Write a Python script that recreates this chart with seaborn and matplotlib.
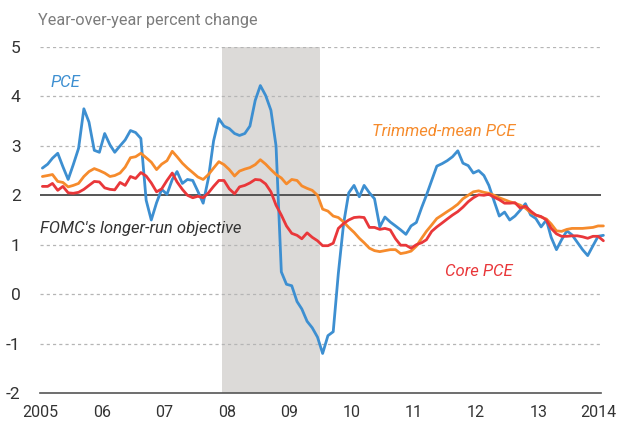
import matplotlib
matplotlib.use("Agg")
import matplotlib.pyplot as plt
import matplotlib.transforms as mtransforms
import numpy as np
import pandas as pd
import seaborn as sns

# monthly, Jan 2005 - Jan 2014 (year-over-year % change)
pce = [
    2.55, 2.63, 2.75, 2.85, 2.58, 2.32, 2.62, 2.95, 3.75, 3.48, 2.91, 2.87,
    3.25, 3.02, 2.87, 3.00, 3.12, 3.31, 3.27, 3.15, 1.90, 1.50, 1.85, 2.12,
    2.02, 2.32, 2.48, 2.24, 2.32, 2.30, 2.08, 1.84, 2.35, 3.10, 3.55, 3.40,
    3.35, 3.25, 3.21, 3.25, 3.40, 3.92, 4.22, 4.02, 3.72, 3.00, 0.45, 0.20,
    0.17, -0.15, -0.30, -0.55, -0.68, -0.87, -1.20, -0.84, -0.76, 0.42, 1.43, 2.05,
    2.20, 1.97, 2.20, 2.05, 1.93, 1.36, 1.56, 1.46, 1.38, 1.30, 1.21, 1.38,
    1.45, 1.75, 2.00, 2.30, 2.59, 2.64, 2.70, 2.78, 2.90, 2.65, 2.60, 2.45,
    2.50, 2.40, 2.20, 1.88, 1.58, 1.66, 1.50, 1.58, 1.70, 1.83, 1.60, 1.53,
    1.36, 1.50, 1.15, 0.90, 1.10, 1.28, 1.20, 1.05, 0.90, 0.78, 0.98, 1.17,
    1.19,
]
trimmed = [
    2.38, 2.40, 2.42, 2.28, 2.26, 2.17, 2.20, 2.24, 2.38, 2.48, 2.54, 2.50,
    2.45, 2.38, 2.40, 2.45, 2.57, 2.76, 2.78, 2.85, 2.76, 2.67, 2.52, 2.63,
    2.70, 2.89, 2.78, 2.65, 2.55, 2.46, 2.37, 2.32, 2.42, 2.55, 2.68, 2.62,
    2.52, 2.39, 2.49, 2.53, 2.56, 2.62, 2.72, 2.63, 2.52, 2.42, 2.35, 2.23,
    2.32, 2.30, 2.19, 2.14, 2.10, 2.00, 1.72, 1.68, 1.58, 1.55, 1.46, 1.35,
    1.25, 1.13, 1.04, 0.93, 0.88, 0.86, 0.88, 0.90, 0.90, 0.82, 0.84, 0.87,
    0.97, 1.13, 1.27, 1.40, 1.53, 1.60, 1.67, 1.74, 1.82, 1.93, 2.00, 2.07,
    2.09, 2.06, 2.04, 2.00, 1.95, 1.91, 1.87, 1.84, 1.80, 1.74, 1.65, 1.60,
    1.56, 1.52, 1.42, 1.28, 1.27, 1.31, 1.33, 1.33, 1.33, 1.34, 1.35, 1.38,
    1.38,
]
core = [
    2.18, 2.18, 2.24, 2.10, 2.18, 2.05, 2.04, 2.06, 2.12, 2.20, 2.28, 2.27,
    2.15, 2.12, 2.11, 2.26, 2.20, 2.38, 2.34, 2.46, 2.39, 2.25, 2.07, 2.13,
    2.30, 2.45, 2.27, 2.12, 2.00, 1.95, 1.98, 1.95, 2.05, 2.18, 2.30, 2.30,
    2.13, 2.03, 2.17, 2.20, 2.25, 2.32, 2.31, 2.23, 2.07, 1.80, 1.60, 1.38,
    1.23, 1.19, 1.12, 1.24, 1.15, 1.08, 0.98, 0.98, 1.03, 1.33, 1.43, 1.50,
    1.55, 1.56, 1.55, 1.35, 1.35, 1.31, 1.33, 1.30, 1.12, 0.99, 0.99, 0.93,
    1.00, 1.04, 1.10, 1.27, 1.36, 1.44, 1.52, 1.60, 1.67, 1.76, 1.87, 1.95,
    2.01, 2.00, 2.02, 1.96, 1.91, 1.84, 1.84, 1.85, 1.74, 1.78, 1.68, 1.60,
    1.57, 1.50, 1.33, 1.22, 1.17, 1.17, 1.18, 1.18, 1.16, 1.13, 1.17, 1.17,
    1.08,
]
series_names = ["PCE", "Trimmed-mean PCE", "Core PCE"]
series_colors = ["#3d8fd1", "#f68b2c", "#e9373a"]
recession = ("2007-12-01", "2009-07-01")
objective = 2.0
year_ticks = list(range(2005, 2015))
year_labels = ["2005", "06", "07", "08", "09", "10", "11", "12", "13", "2014"]

dates = pd.date_range("2005-01-01", periods=len(pce), freq="MS") + pd.Timedelta(days=14)
df = pd.DataFrame({"date": dates, "PCE": pce, "Trimmed-mean PCE": trimmed, "Core PCE": core})
long_df = df.melt(id_vars="date", var_name="series", value_name="value")

sns.set_theme(style="white")
FONT = ["Roboto", "DejaVu Sans"]
plt.rcParams["font.family"] = FONT

fig = plt.figure(figsize=(6.18, 4.25), dpi=100, facecolor="white")
ax = fig.add_axes([40 / 618, 1 - 393 / 425, 561 / 618, 346 / 425])

ax.axvspan(pd.Timestamp(recession[0]), pd.Timestamp(recession[1]), color="#dcdad8", lw=0, zorder=0)

for y in [-1, 0, 1, 3, 4, 5]:
    ax.axhline(y, color="#b5b5b5", lw=0.9, ls=(0, (2.5, 2.5)), zorder=1)
ax.axhline(objective, color="#555555", lw=1.4, zorder=2)

sns.lineplot(data=long_df, x="date", y="value", hue="series", hue_order=series_names,
             palette=series_colors, lw=2.0, legend=False, ax=ax, zorder=3)
for line in ax.lines[-3:]:
    line.set_clip_on(False)

ax.set_xlim(pd.Timestamp("2005-01-01"), pd.Timestamp("2014-01-01"))
ax.set_ylim(-2, 5)
ax.set_xticks([pd.Timestamp(f"{y}-01-01") for y in year_ticks])
ax.set_xticklabels(year_labels)
ax.set_yticks(range(-2, 6))
ax.set_yticklabels([str(v) for v in range(-2, 6)])
ax.set_xlabel("")
ax.set_ylabel("")

for side in ["top", "right", "left"]:
    ax.spines[side].set_visible(False)
ax.spines["bottom"].set_color("#555555")
ax.spines["bottom"].set_linewidth(1.2)
ax.tick_params(axis="x", direction="inout", length=3, width=2, color="#333333",
               pad=7, labelsize=11.5, labelcolor="#333333")
ax.tick_params(axis="y", length=0, pad=14, labelsize=12.5, labelcolor="#333333")

# keep the last year label inside the canvas
last = ax.get_xticklabels()[-1]
last.set_transform(last.get_transform() + mtransforms.ScaledTranslation(-3 / 100, 0, fig.dpi_scale_trans))

fig.text(38 / 618, 1 - 20 / 425, "Year-over-year percent change", fontsize=11.7,
         color="#7c7c7c", ha="left", va="center")

label_kw = dict(fontsize=12, style="italic", ha="left", va="center")
ax.text(pd.Timestamp("2005-03-05"), 4.28, "PCE", color=series_colors[0], **label_kw)
ax.text(pd.Timestamp("2010-05-01"), 3.3, "Trimmed-mean PCE", color=series_colors[1], **label_kw)
ax.text(pd.Timestamp("2011-07-01"), 0.45, "Core PCE", color=series_colors[2], **label_kw)
ax.text(pd.Timestamp("2005-01-01"), 1.32, "FOMC's longer-run objective", color="#333333", **label_kw)

fig.savefig("out.png", dpi=100, facecolor="white")
plt.close(fig)
